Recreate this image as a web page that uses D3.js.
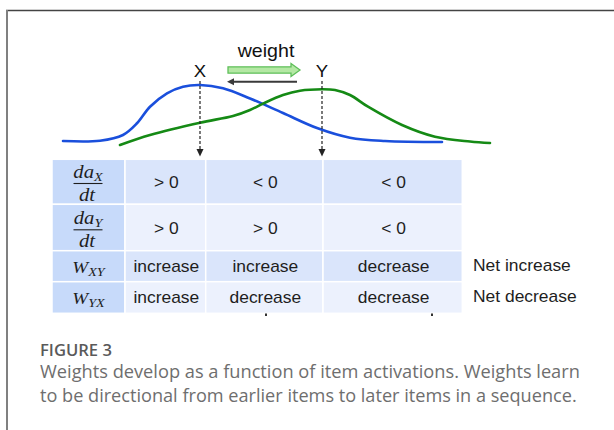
<!DOCTYPE html>
<html><head><meta charset="utf-8">
<script src="https://cdn.jsdelivr.net/npm/d3@7"></script>
<style>body{margin:0;background:#fff}svg{display:block}</style>
</head><body>
<svg id="c" width="614" height="430"></svg>
<script>
// ---- data ----
const items = ["X", "Y"];
const itemPeakT = [14.0, 26.2];
const blueT = [0.3, 4.0, 6.3, 7.7, 9.0, 10.7, 12.3, 14.0, 16.3, 19.0, 22.3, 25.7, 29.0, 32.5, 38.2];
const blueA = [0.067, 0.072, 0.167, 0.362, 0.638, 0.862, 0.972, 1.0, 0.945, 0.775, 0.533, 0.283, 0.122, 0.067, 0.05];
const greenT = [6.0, 9.0, 14.0, 17.3, 19.0, 20.3, 22.3, 24.0, 26.2, 27.5, 29.0, 30.8, 34.2, 37.5, 41.0, 43.0];
const greenA = [0.0, 0.167, 0.372, 0.483, 0.583, 0.69, 0.833, 0.905, 0.93, 0.917, 0.833, 0.638, 0.333, 0.138, 0.058, 0.033];
const rowDaX = ["> 0", "< 0", "< 0"];
const rowDaY = ["> 0", "> 0", "< 0"];
const rowWXY = ["increase", "increase", "decrease"];
const rowWYX = ["increase", "decrease", "decrease"];
const netLabels = ["", "", "Net increase", "Net decrease"];
const arrowLabel = "weight";
const figLabel = "FIGURE 3";
const captionLines = ["Weights develop as a function of item activations. Weights learn",
  "to be directional from earlier items to later items in a sequence."];

const SX = 1.09; // horizontal stretch of the original figure
const svg = d3.select("#c");
const x = d3.scaleLinear().domain([0, 43]).range([60, 490]);
const y = d3.scaleLinear().domain([0, 1]).range([145, 85]);
function stretch(sel, ax, sx) {
  sel.attr("transform", `translate(${ax},0) scale(${sx},1) translate(${-ax},0)`);
  return sel;
}

// frame
svg.append("line").attr("x1", 6).attr("x2", 614).attr("y1", 10.5).attr("y2", 10.5).attr("stroke", "#444").attr("stroke-width", 1.5);
svg.append("line").attr("x1", 7).attr("x2", 7).attr("y1", 10).attr("y2", 430).attr("stroke", "#808080").attr("stroke-width", 2);

// ---- table ----
const colEdges = [52, 125, 205.7, 323, 462.3];
const rowEdges = [159.3, 204.3, 250.7, 281.7, 313.3];
const rowBase = [188.3, 234, 272.5, 303.5];
const rows = [rowDaX, rowDaY, rowWXY, rowWYX];
const rowFill = ["#dae5fb", "#ecf1fd", "#dae5fb", "#ecf1fd"];
const sans = "Liberation Sans, Arial, sans-serif";
const tbl = svg.append("g");
rows.forEach((r, i) => {
  tbl.append("rect").attr("x", colEdges[0]).attr("y", rowEdges[i]).attr("width", colEdges[1] - colEdges[0])
    .attr("height", rowEdges[i + 1] - rowEdges[i]).attr("fill", "#c7dafa").attr("stroke", "#fff").attr("stroke-width", 1.5);
  r.forEach((v, j) => {
    tbl.append("rect").attr("x", colEdges[j + 1]).attr("y", rowEdges[i]).attr("width", colEdges[j + 2] - colEdges[j + 1])
      .attr("height", rowEdges[i + 1] - rowEdges[i]).attr("fill", rowFill[i]).attr("stroke", "#fff").attr("stroke-width", 1.5);
    const cx = (colEdges[j + 1] + colEdges[j + 2]) / 2 + 1;
    stretch(tbl.append("text").attr("x", cx).attr("y", rowBase[i])
      .attr("text-anchor", "middle").attr("font-family", sans).attr("font-size", 16)
      .attr("fill", "#1e1e1e").text(v), cx, SX);
  });
  if (netLabels[i]) {
    stretch(tbl.append("text").attr("x", 473).attr("y", rowBase[i] - 1)
      .attr("font-family", sans).attr("font-size", 16).attr("fill", "#1e1e1e").text(netLabels[i]), 473, SX);
  }
});
// row header math
const mf = "Liberation Serif, Times New Roman, serif";
function frac(sub, lineY) {
  const g = tbl.append("g");
  const num = g.append("text").attr("x", 88).attr("y", lineY - 5.5).attr("text-anchor", "middle")
    .attr("font-family", mf).attr("font-style", "italic").attr("font-size", 19).attr("fill", "#1e1e1e");
  num.append("tspan").text("da");
  num.append("tspan").attr("font-size", 13).attr("dy", 3).text(sub);
  stretch(num, 88, SX);
  g.append("line").attr("x1", 73.5).attr("x2", 102.5).attr("y1", lineY).attr("y2", lineY).attr("stroke", "#1e1e1e").attr("stroke-width", 1.1);
  stretch(g.append("text").attr("x", 87).attr("y", lineY + 17.5).attr("text-anchor", "middle")
    .attr("font-family", mf).attr("font-style", "italic").attr("font-size", 19).attr("fill", "#1e1e1e").text("dt"), 87, SX);
}
frac("X", 183.5);
frac("Y", 229.8);
function wlab(sub, base) {
  const t = tbl.append("text").attr("x", 88.5).attr("y", base).attr("text-anchor", "middle")
    .attr("font-family", mf).attr("font-style", "italic").attr("font-size", 17.5).attr("fill", "#1e1e1e");
  t.append("tspan").text("W");
  t.append("tspan").attr("font-size", 13).attr("dy", 3).text(sub);
  stretch(t, 88.5, SX);
}
wlab("XY", 273.5);
wlab("YX", 304.2);
// tiny marks under table
[266, 432].forEach(px => svg.append("rect").attr("x", px - 1).attr("y", 313.5).attr("width", 2).attr("height", 2.5).attr("fill", "#333"));

// ---- curves ----
const line = d3.line().x(d => x(d[0])).y(d => y(d[1])).curve(d3.curveCatmullRom.alpha(0.5));
svg.append("path").datum(blueT.map((t, i) => [t, blueA[i]])).attr("d", line)
  .attr("fill", "none").attr("stroke", "#1a4fdc").attr("stroke-width", 2.6).attr("stroke-linecap", "round");
svg.append("path").datum(greenT.map((t, i) => [t, greenA[i]])).attr("d", line)
  .attr("fill", "none").attr("stroke", "#158a15").attr("stroke-width", 2.6).attr("stroke-linecap", "round");

// dashed markers + labels
items.forEach((lab, i) => {
  const px = x(itemPeakT[i]);
  svg.append("line").attr("x1", px).attr("x2", px).attr("y1", 81).attr("y2", 150)
    .attr("stroke", "#222").attr("stroke-width", 1.2).attr("stroke-dasharray", "3,2");
  svg.append("path").attr("d", `M${px - 3.5},149 L${px + 3.5},149 L${px},156.5 Z`).attr("fill", "#222");
  stretch(svg.append("text").attr("x", px).attr("y", 77).attr("text-anchor", "middle")
    .attr("font-family", sans).attr("font-size", 17).attr("fill", "#111").text(lab), px, SX);
});

// weight arrows
const ax0 = x(itemPeakT[0]) + 28, ax1 = x(itemPeakT[1]) - 22;
svg.append("path").attr("d", `M${ax0},66.8 L${ax1 - 9},66.8 L${ax1 - 9},63.5 L${ax1},70 L${ax1 - 9},76.5 L${ax1 - 9},73.2 L${ax0},73.2 Z`)
  .attr("fill", "#b4e8a4").attr("stroke", "#5fbf5a").attr("stroke-width", 1.3);
svg.append("line").attr("x1", ax1 - 3).attr("x2", ax0 + 4).attr("y1", 81.7).attr("y2", 81.7).attr("stroke", "#3a3a3a").attr("stroke-width", 2);
svg.append("path").attr("d", `M${ax0 - 1},81.7 L${ax0 + 6},78.2 L${ax0 + 6},85.2 Z`).attr("fill", "#3a3a3a");
const wx = (ax0 + ax1) / 2 + 2;
stretch(svg.append("text").attr("x", wx).attr("y", 57).attr("text-anchor", "middle")
  .attr("font-family", sans).attr("font-size", 18).attr("fill", "#111").text(arrowLabel), wx, SX);

// ---- caption ----
function fitSize(sel, w) {
  const cur = sel.node().getComputedTextLength();
  const fs = parseFloat(sel.attr("font-size"));
  sel.attr("font-size", fs * w / cur);
}
const fl = svg.append("text").attr("x", 40).attr("y", 355.5).attr("font-family", "Open Sans, sans-serif")
  .attr("font-weight", 600).attr("font-size", 14).attr("fill", "#5a5a5a").text(figLabel);
fitSize(fl, 72);
const capW = [540, 537];
captionLines.forEach((l, i) => {
  const t = svg.append("text").attr("x", 40).attr("y", 378 + i * 24).attr("font-family", "Open Sans, sans-serif")
    .attr("font-weight", 400).attr("font-size", 17).attr("fill", "#6e6e6e").text(l);
  fitSize(t, capW[i]);
});
</script>
</body></html>
